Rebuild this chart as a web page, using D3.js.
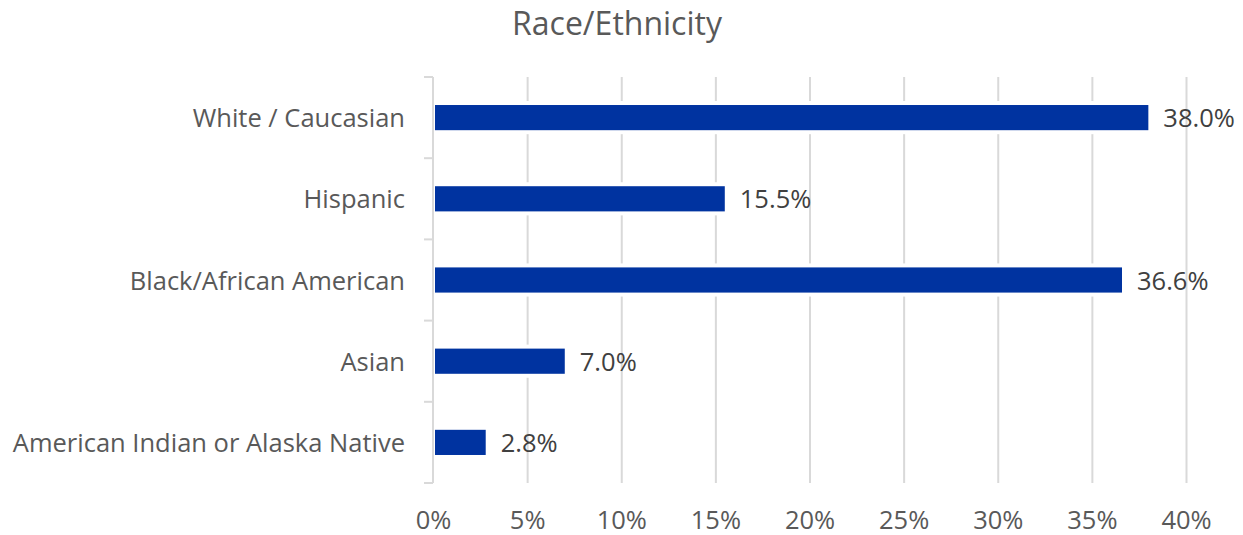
<!DOCTYPE html>
<html>
<head>
<meta charset="utf-8">
<script src="https://cdn.jsdelivr.net/npm/d3@7"></script>
<style>
  html, body { margin: 0; padding: 0; background: #ffffff; }
  svg { display: block; }
</style>
</head>
<body>
<svg id="chart" width="1243" height="535"></svg>
<script>
// Share of respondents by race/ethnicity
const categories = ["White / Caucasian", "Hispanic", "Black/African American", "Asian", "American Indian or Alaska Native"];
const shares = [38.0, 15.5, 36.6, 7.0, 2.8];
const tickValues = [0, 5, 10, 15, 20, 25, 30, 35, 40];
const chartTitle = "Race/Ethnicity";

const width = 1243, height = 535;
const margin = { top: 77, right: 57, bottom: 52, left: 433 };
const font = "'Open Sans', Lato, sans-serif";
const labelSize = 25.5;
const textColor = "#595959";
const gridColor = "#d9d9d9";
const barColor = "#0033a0";

const svg = d3.select("#chart");

const x = d3.scaleLinear()
  .domain([0, 40])
  .range([margin.left, width - margin.right]);

const y = d3.scaleBand()
  .domain(categories)
  .range([margin.top, height - margin.bottom])
  .paddingInner(0.69)
  .paddingOuter(0.345);

const yOuter = d3.scaleBand()
  .domain(categories)
  .range([margin.top, height - margin.bottom]);

// Title
svg.append("text")
  .attr("x", 617)
  .attr("y", 35)
  .attr("text-anchor", "middle")
  .attr("font-family", font)
  .attr("font-size", 32)
  .attr("fill", textColor)
  .text(chartTitle);

// Vertical gridlines
svg.append("g")
  .selectAll("line")
  .data(tickValues.filter(d => d > 0))
  .join("line")
  .attr("x1", d => x(d) + 0.5)
  .attr("x2", d => x(d) + 0.5)
  .attr("y1", margin.top)
  .attr("y2", height - margin.bottom)
  .attr("stroke", gridColor)
  .attr("stroke-width", 2);

// X axis tick labels
const xAxis = d3.axisBottom(x)
  .tickValues(tickValues)
  .tickFormat(d => d + "%")
  .tickSize(0)
  .tickPadding(28);

const gx = svg.append("g")
  .attr("transform", `translate(0,${height - margin.bottom})`)
  .call(xAxis);
gx.select(".domain").remove();
gx.selectAll("text")
  .attr("font-family", font)
  .attr("font-size", labelSize)
  .attr("fill", textColor);

// Y axis line with category boundary ticks
const axisG = svg.append("g");
axisG.append("line")
  .attr("x1", margin.left).attr("x2", margin.left)
  .attr("y1", margin.top).attr("y2", height - margin.bottom)
  .attr("stroke", gridColor).attr("stroke-width", 2);
const boundaries = categories.map(c => yOuter(c)).concat([height - margin.bottom]);
axisG.selectAll("line.tick")
  .data(boundaries)
  .join("line")
  .attr("class", "tick")
  .attr("x1", margin.left - 9).attr("x2", margin.left)
  .attr("y1", d => d).attr("y2", d => d)
  .attr("stroke", gridColor).attr("stroke-width", 2);

// Category labels
svg.append("g")
  .selectAll("text")
  .data(categories)
  .join("text")
  .attr("x", margin.left - 28)
  .attr("y", d => y(d) + y.bandwidth() / 2)
  .attr("dy", "0.38em")
  .attr("text-anchor", "end")
  .attr("font-family", font)
  .attr("font-size", labelSize)
  .attr("fill", textColor)
  .text(d => d);

const rows = categories.map((c, i) => ({ cat: c, value: shares[i] }));

// Bars with a thin white halo over the gridlines
const bars = svg.append("g");
bars.selectAll("rect.halo")
  .data(rows)
  .join("rect")
  .attr("class", "halo")
  .attr("x", margin.left + 1)
  .attr("y", d => y(d.cat) - 4)
  .attr("width", d => x(d.value) - margin.left + 3)
  .attr("height", y.bandwidth() + 8)
  .attr("fill", "#ffffff");
bars.selectAll("rect.bar")
  .data(rows)
  .join("rect")
  .attr("class", "bar")
  .attr("x", margin.left + 2)
  .attr("y", d => y(d.cat))
  .attr("width", d => x(d.value) - margin.left - 2)
  .attr("height", y.bandwidth())
  .attr("fill", barColor);

// Value labels
svg.append("g")
  .selectAll("text")
  .data(rows)
  .join("text")
  .attr("x", d => x(d.value) + 15)
  .attr("y", d => y(d.cat) + y.bandwidth() / 2)
  .attr("dy", "0.38em")
  .attr("font-family", font)
  .attr("font-size", labelSize)
  .attr("fill", "#404040")
  .text(d => d.value.toFixed(1) + "%");
</script>
</body>
</html>
